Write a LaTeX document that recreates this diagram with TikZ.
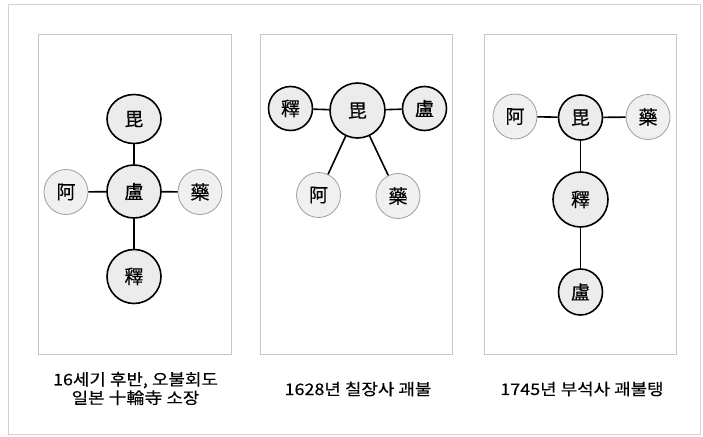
\documentclass[tikz,border=0pt]{standalone}
\usepackage{fontspec}
\newfontfamily\cjk[FakeBold=0.3]{Noto Sans CJK KR}
\newfontfamily\capfont[FakeStretch=1.12, FakeBold=0.3]{Noto Sans CJK KR}
\usetikzlibrary{shapes.geometric}
\begin{document}
\begin{tikzpicture}[x=1pt,y=-1pt,
  big/.style={ellipse, draw=black, line width=1.6pt, fill=gray!15, inner sep=0pt,
    minimum width=54pt, minimum height=53pt, font=\cjk\fontsize{19}{19}\selectfont},
  mid/.style={big, minimum width=44pt, minimum height=44pt},
  small/.style={ellipse, draw=gray!75, line width=0.8pt, fill=gray!12, inner sep=0pt,
    minimum width=44pt, minimum height=45pt, font=\cjk\fontsize{19}{19}\selectfont},
  link/.style={line width=1.6pt, black},
  panel/.style={draw=gray!45, line width=0.6pt, fill=white},
  outerframe/.style={draw=gray!35, line width=0.5pt},
  captext/.style={font=\capfont\fontsize{16}{18.5}\selectfont, align=center, inner sep=0pt}]
\useasboundingbox (0,0) rectangle (703,436);
\fill[white] (0,0) rectangle (703,436);
\draw[outerframe] (8,4) rectangle (700,434);

% panels
\draw[panel] (38,34) rectangle (231,354);
\draw[panel] (260,34) rectangle (452,354);
\draw[panel] (484,34) rectangle (676,354);

% panel 1
\node[big, minimum height=49pt] (p1b) at (134,119) {毘};
\node[big] (p1l) at (134,191.5) {盧};
\node[small] (p1a) at (66,192) {阿};
\node[small] (p1y) at (200,192) {藥};
\node[big, minimum height=54pt] (p1s) at (134,276.5) {釋};
\draw[link] (p1b) -- (p1l);
\draw[link] (p1a) -- (p1l);
\draw[link] (p1l) -- (p1y);
\draw[link] (p1l) -- (p1s);

% panel 2
\node[mid] (p2s) at (290.5,108.5) {釋};
\node[big, minimum width=55pt, minimum height=55pt] (p2b) at (357.5,110.5) {毘};
\node[mid] (p2l) at (424.5,108.5) {盧};
\node[small] (p2a) at (318.5,195) {阿};
\node[small] (p2y) at (398,196) {藥};
\draw[link] (p2s) -- (p2b);
\draw[link] (p2b) -- (p2l);
\draw[link] (p2b) -- (p2a);
\draw[link] (p2b) -- (p2y);

% panel 3
\node[small] (p3a) at (515,116.5) {阿};
\node[mid, minimum height=45pt] (p3b) at (580.5,117.5) {毘};
\node[small] (p3y) at (648,117) {藥};
\node[big, minimum width=55pt, minimum height=55pt] (p3s) at (580.5,199.5) {釋};
\node[mid, minimum height=46pt] (p3l) at (580.5,292) {盧};
\draw[link] (p3a) -- (p3b);
\draw[link] (p3b) -- (p3y);
\draw[link] (p3b) -- (p3s);
\draw[link] (p3s) -- (p3l);

% captions
\node[captext] (c1) at (135.5,388.5) {16세기 후반, 오불회도\\일본 十輪寺 소장};
\node[captext] (c2) at (358,389) {1628년 칠장사 괘불};
\node[captext] (c3) at (582,389) {1745년 부석사 괘불탱};
\end{tikzpicture}
\end{document}
